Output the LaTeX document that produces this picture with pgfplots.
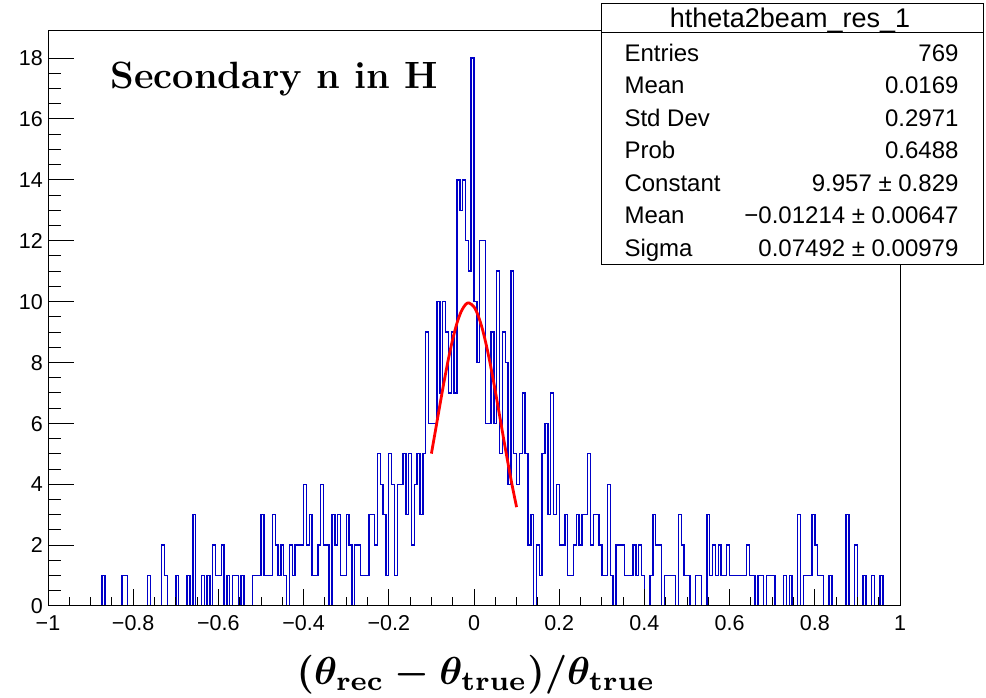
\documentclass[border=0pt]{standalone}
\usepackage{graphicx}
\usepackage{pgfplots}
\pgfplotsset{compat=1.18}
\usepackage{pgfplotstable}
\usepackage{fontspec}
\newfontfamily\helv{Liberation Sans}
\definecolor{rootblue}{RGB}{0,0,200}
\newcommand\xlab{\boldmath$(\theta_{\mathbf{rec}}-\theta_{\mathbf{true}})/\theta_{\mathbf{true}}$}

% 300 bins of width 1/150 on [-1,1], plus a closing 0
\pgfplotstableread[row sep=\\]{
c\\
0\\0\\0\\0\\0\\0\\0\\0\\0\\0\\0\\0\\0\\0\\0\\0\\0\\0\\0\\1\\
0\\0\\0\\0\\0\\0\\1\\1\\0\\0\\0\\0\\0\\0\\0\\1\\0\\0\\0\\0\\
2\\1\\0\\0\\0\\1\\0\\0\\0\\1\\0\\3\\0\\0\\1\\0\\1\\0\\2\\1\\
1\\2\\0\\1\\0\\1\\1\\0\\1\\0\\0\\0\\1\\1\\1\\3\\1\\1\\1\\3\\
2\\1\\2\\1\\0\\2\\1\\2\\2\\2\\4\\2\\3\\1\\1\\2\\4\\2\\2\\0\\
3\\2\\3\\1\\1\\3\\2\\0\\2\\2\\1\\1\\1\\3\\3\\2\\5\\4\\3\\1\\
5\\4\\1\\4\\4\\5\\3\\5\\2\\4\\5\\3\\5\\9\\6\\6\\6\\10\\7\\10\\
9\\7\\9\\7\\14\\13\\14\\12\\11\\18\\10\\8\\12\\12\\6\\6\\9\\6\\11\\5\\
9\\8\\4\\11\\5\\4\\5\\7\\5\\2\\3\\0\\2\\1\\5\\6\\3\\7\\3\\4\\
2\\2\\3\\1\\1\\2\\3\\2\\3\\3\\5\\2\\3\\3\\2\\1\\1\\4\\1\\0\\
2\\2\\2\\1\\1\\1\\2\\1\\2\\1\\0\\0\\1\\3\\2\\2\\0\\1\\1\\1\\
1\\0\\3\\2\\1\\1\\0\\0\\1\\1\\0\\0\\3\\1\\2\\1\\2\\1\\1\\2\\
1\\1\\1\\1\\1\\1\\2\\1\\1\\0\\1\\1\\0\\1\\1\\1\\0\\0\\0\\1\\
0\\1\\0\\0\\3\\0\\1\\1\\1\\3\\2\\1\\1\\0\\0\\1\\0\\0\\0\\0\\
0\\3\\0\\0\\2\\0\\0\\1\\0\\0\\1\\0\\0\\1\\0\\0\\0\\0\\0\\0\\
0\\
}\hist

\begin{document}
\begin{tikzpicture}[x=1pt,y=1pt]
\useasboundingbox (0,0) rectangle (986,698);
% main axis: frame, histogram, fit, x ticks
\begin{axis}[
  at={(48pt,92pt)}, anchor=south west, scale only axis,
  width=852pt, height=575.3pt,
  xmin=-1, xmax=1, ymin=0, ymax=18.9,
  axis on top,
  axis line style={line width=1pt},
  xtick={-1,-0.8,-0.6,-0.4,-0.2,0,0.2,0.4,0.6,0.8,1},
  xticklabels={−1,−0.8,−0.6,−0.4,−0.2,0,0.2,0.4,0.6,0.8,1},
  minor x tick num=3,
  ytick=\empty,
  xtick pos=left,
  tick align=inside,
  major tick length=17pt, minor tick length=9pt,
  tick style={black, line width=1pt},
  xticklabel style={font=\helv\fontsize{21.5}{24}\selectfont, inner sep=0pt,
    text height=15.4pt, text depth=0pt, yshift=-9pt},
]
\addplot[rootblue, line width=1.4pt, const plot, mark=none]
  table[x expr={-1+\coordindex/150}, y=c] {\hist};
\addplot[red, line width=2.8pt, smooth, mark=none] coordinates {
(-0.10,5.006) (-0.09,5.802) (-0.08,6.607) (-0.07,7.390) (-0.06,8.119)
(-0.05,8.763) (-0.04,9.292) (-0.03,9.678) (-0.02,9.902) (-0.01214,9.957)
(0.00,9.827) (0.01,9.532) (0.02,9.082) (0.03,8.500) (0.04,7.815)
(0.05,7.059) (0.06,6.263) (0.07,5.459) (0.08,4.674) (0.09,3.931) (0.10,3.248)};
\end{axis}
% overlay axis: y ticks only (ROOT tick length differs per axis)
\begin{axis}[
  at={(48pt,92pt)}, anchor=south west, scale only axis,
  width=852pt, height=575.3pt,
  xmin=-1, xmax=1, ymin=0, ymax=18.9,
  axis line style={line width=1pt},
  xtick=\empty,
  ytick={0,2,4,6,8,10,12,14,16,18},
  minor y tick num=3,
  ytick pos=left,
  tick align=inside,
  major tick length=25.5pt, minor tick length=13pt,
  tick style={black, line width=1pt},
  yticklabel style={font=\helv\fontsize{21.5}{24}\selectfont, inner sep=0pt,
    text height=15.4pt, text depth=0pt, xshift=-5pt},
  /pgf/number format/assume math mode=true,
]
\end{axis}
% title text
\node[anchor=base west, font=\fontsize{38}{40}\selectfont\bfseries] at (107,609) {Secondary n in H};
% x axis label
\node[anchor=base, inner sep=0pt] at (476,13) {\scalebox{3.9}{\xlab}};
% stats box
\draw[line width=1pt, fill=white] (601,433) rectangle (983,694);
\draw[line width=1pt] (601,665) -- (983,665);
\begin{scope}[font=\helv\fontsize{24}{26}\selectfont]
\node[anchor=base, font=\helv\fontsize{27}{30}\selectfont] at (790,670) {htheta2beam\_res\_1};
\node[anchor=base west] at (621,636.5) {Entries};
\node[anchor=base east] at (962,636.5) {769};
\node[anchor=base west] at (621,604) {Mean};
\node[anchor=base east] at (962,604) {0.0169};
\node[anchor=base west] at (621,571.5) {Std Dev};
\node[anchor=base east] at (962,571.5) {0.2971};
\node[anchor=base west] at (621,539) {Prob};
\node[anchor=base east] at (962,539) {0.6488};
\node[anchor=base west] at (621,506.5) {Constant};
\node[anchor=base east] at (962,506.5) {9.957 ± 0.829};
\node[anchor=base west] at (621,474) {Mean};
\node[anchor=base east] at (962,474) {−0.01214 ± 0.00647};
\node[anchor=base west] at (621,441.5) {Sigma};
\node[anchor=base east] at (962,441.5) {0.07492 ± 0.00979};
\end{scope}
\end{tikzpicture}
\end{document}
